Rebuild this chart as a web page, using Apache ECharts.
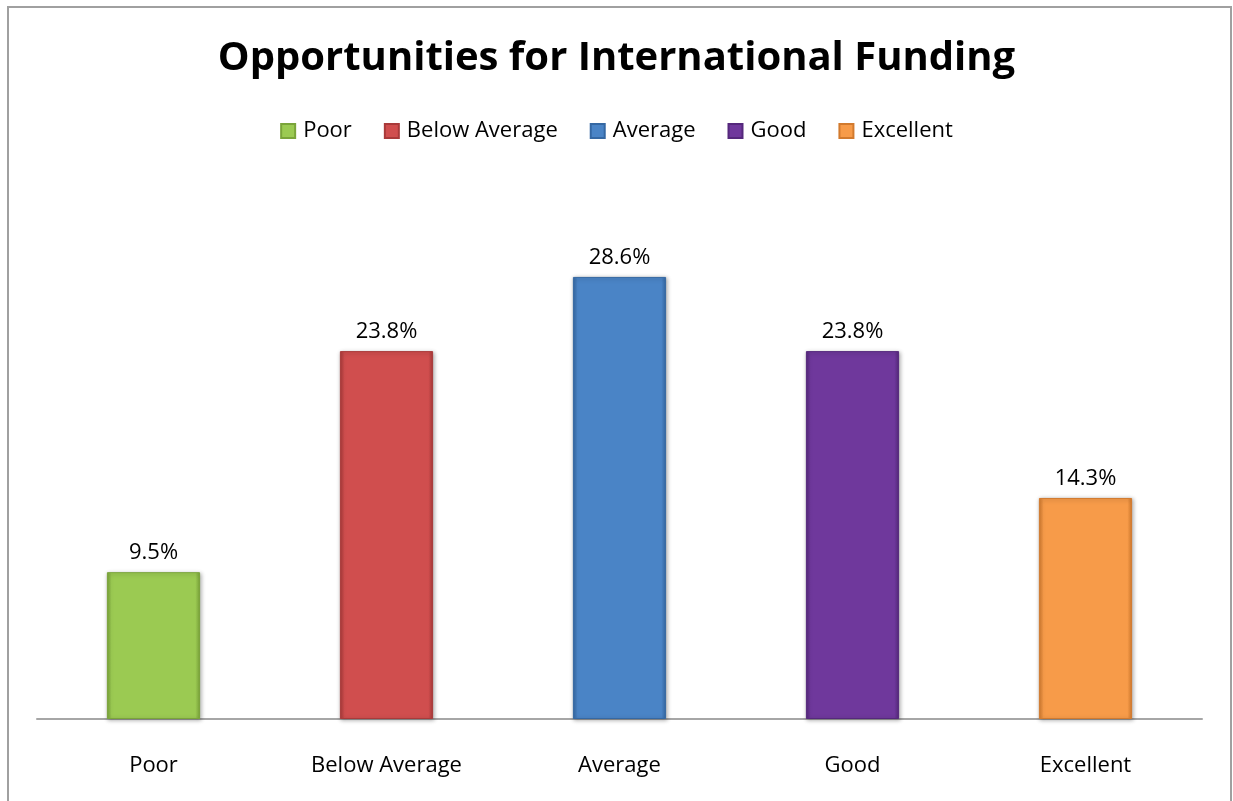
<!DOCTYPE html>
<html>
<head>
<meta charset="utf-8">
<script src="https://cdn.jsdelivr.net/npm/echarts@6/dist/echarts.min.js"></script>
<style>
html,body{margin:0;padding:0;background:#fff;}
#c{width:1233px;height:801px;}
</style>
</head>
<body>
<div id="c"></div>
<script>
var titleText = 'Opportunities for International Funding';
var categories = ['Poor', 'Below Average', 'Average', 'Good', 'Excellent'];
var values = [9.5, 23.8, 28.6, 23.8, 14.3];
var colors = ['#9bca52', '#d04e4e', '#4a84c6', '#6f389c', '#f79b49'];
var darkColors = ['#7aa43a', '#a93a3a', '#3568a3', '#55287c', '#d27a2e'];

var FONT = '"Open Sans", sans-serif';

var series = categories.map(function (name, i) {
  var data = categories.map(function (c, j) { return j === i ? values[i] : '-'; });
  return {
    name: name,
    type: 'bar',
    stack: 'all',
    barWidth: '40%',
    data: data,
    itemStyle: {
      color: {
        type: 'linear', x: 0, y: 0, x2: 1, y2: 0,
        colorStops: [
          {offset: 0, color: darkColors[i]},
          {offset: 0.05, color: colors[i]},
          {offset: 0.95, color: colors[i]},
          {offset: 1, color: darkColors[i]}
        ]
      },
      borderColor: darkColors[i],
      borderWidth: 1,
      shadowColor: 'rgba(0,0,0,0.3)',
      shadowBlur: 4,
      shadowOffsetX: 1,
      shadowOffsetY: 1
    },
    label: {
      show: true,
      position: 'top',
      distance: 8,
      formatter: function (p) { return p.value.toFixed(1) + '%'; },
      fontFamily: FONT,
      fontSize: 22,
      color: '#000'
    }
  };
});

var chart = echarts.init(document.getElementById('c'));
chart.setOption({
  animation: false,
  backgroundColor: '#fff',
  color: colors,
  title: {
    text: titleText,
    left: 'center',
    top: 34,
    textStyle: {fontFamily: FONT, fontSize: 40, fontWeight: 'bold', color: '#000'}
  },
  legend: {
    data: categories,
    top: 115,
    left: 'center',
    icon: 'rect',
    itemWidth: 14,
    itemHeight: 14,
    itemGap: 32,
    textStyle: {fontFamily: FONT, fontSize: 22, color: '#000', padding: [0, 0, 0, 3]}
  },
  grid: {left: 37, right: 31, top: 178, bottom: 82, containLabel: false},
  xAxis: {
    type: 'category',
    data: categories,
    axisLine: {lineStyle: {color: '#a6a6a6', width: 2}},
    axisTick: {show: false},
    axisLabel: {fontFamily: FONT, fontSize: 22, color: '#000', margin: 36}
  },
  yAxis: {
    type: 'value',
    min: 0,
    max: 35,
    show: false,
    splitLine: {show: false}
  },
  graphic: [{
    type: 'rect',
    shape: {x: 8, y: 7, width: 1223, height: 810},
    style: {fill: 'none', stroke: '#a0a0a0', lineWidth: 2},
    silent: true
  }],
  series: series
});
</script>
</body>
</html>
